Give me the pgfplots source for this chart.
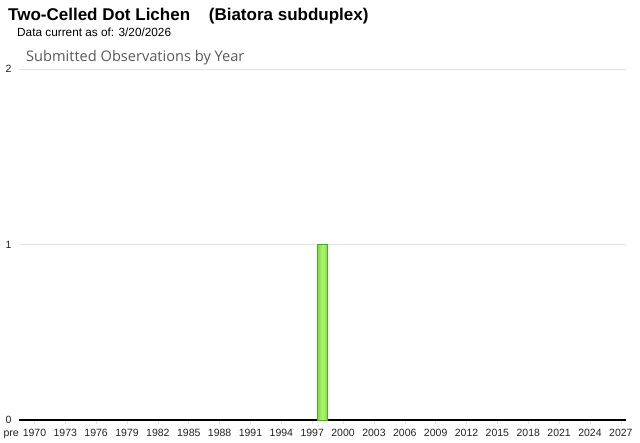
\documentclass[border=0pt]{standalone}
\usepackage{pgfplots}
\pgfplotsset{compat=1.18}
\usepackage{fontspec}
\setmainfont{Liberation Sans}
\newfontfamily\charttitlefont{Open Sans}
\definecolor{barfill}{HTML}{86DC44}
\definecolor{barlight}{HTML}{B0F27A}
\definecolor{bardraw}{HTML}{4DAA1C}
\definecolor{gridc}{HTML}{E3E3E3}
\definecolor{tickc}{HTML}{222222}
\begin{document}
\begin{tikzpicture}
\path[use as bounding box] (0pt,0pt) rectangle (640pt,442pt);
\node[anchor=base west,inner sep=0pt] at (8pt,421pt) {\fontsize{17}{20}\selectfont\bfseries Two-Celled Dot Lichen\hspace{1.1em}(Biatora subduplex)};
\node[anchor=base west,inner sep=0pt] at (17pt,405pt) {\fontsize{11.8}{14}\selectfont Data current as of: 3/20/2026};
\node[anchor=base west,inner sep=0pt,text=black!65] at (26pt,380pt) {\charttitlefont\fontsize{14.6}{17}\selectfont Submitted Observations by Year};
\begin{axis}[
  at={(19pt,22pt)}, anchor=south west,
  scale only axis, width=607pt, height=351pt,
  xmin=1968.5, xmax=2027.5, ymin=0, ymax=2,
  axis x line*=bottom, axis y line*=left,
  y axis line style={draw=none},
  x axis line style={black, line width=1.2pt},
  ytick={0,1,2}, yticklabels={0,1,2},
  ymajorgrids, grid style={gridc, line width=0.8pt},
  xtick={1970,1973,...,2027},
  xticklabels={1970,1973,1976,1979,1982,1985,1988,1991,1994,1997,2000,2003,2006,2009,2012,2015,2018,2021,2024,2027},
  extra x ticks={1969},
  extra x tick labels={pre},
  extra x tick style={xticklabel style={xshift=-13pt}, x tick style={draw=none}},
  major tick length=4pt,
  xtick align=outside,
  x tick style={draw=gridc, line width=0.6pt},
  ytick style={draw=none},
  ticklabel style={font=\fontsize{10.5}{12}\selectfont, text=tickc},
  yticklabel style={xshift=-4pt},
  xticklabel style={yshift=-1.5pt, text height=7.6pt, text depth=0pt},
  /pgf/number format/assume math mode=true,
  clip=false,
]
\addplot[ybar, bar width=0.9, draw=bardraw, line width=0.8pt,
  left color=barfill, right color=barfill, middle color=barlight]
  coordinates {(1998,1)};
\end{axis}
\end{tikzpicture}
\end{document}
